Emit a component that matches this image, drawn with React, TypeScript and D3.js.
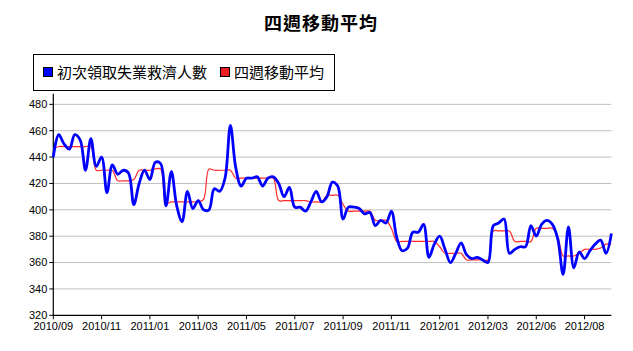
import React, { useEffect } from 'react';
import * as d3 from 'd3';

// weekly points, 2010/09 - 2012/08
const claims = [
  440, 457, 450, 446, 457, 453, 430, 454, 433, 440,
  413, 434, 427, 430, 428, 404, 420, 430, 423, 436,
  435, 403, 429, 403, 391, 414, 401, 407, 400, 400,
  416, 414, 424, 464, 432, 418, 424, 424, 425, 418,
  424, 425, 420, 410, 417, 402, 402, 399, 406, 414,
  406, 410, 421, 418, 393, 402, 402, 401, 397, 398,
  388, 392, 390, 399, 379, 369, 371, 383, 383, 389,
  364, 374, 380, 370, 360, 367, 375, 366, 363, 364,
  362, 360, 388, 390, 393, 367, 370, 372, 372, 388,
  380, 389, 392, 389, 378, 351, 387, 356, 368, 363,
  369, 374, 377, 367, 382,
];

const movingAvg = [
  446, 448, 448, 448, 448, 448, 448, 448, 430, 430,
  430, 430, 422, 422, 422, 423, 430, 430, 430, 431,
  431, 405, 406, 406, 406, 406, 406, 406, 408, 431,
  430, 430, 430, 430, 424, 424, 424, 424, 424, 424,
  424, 424, 407, 407, 407, 407, 407, 407, 406, 406,
  406, 411, 411, 411, 404, 399, 399, 399, 399, 399,
  392, 392, 392, 386, 376, 376, 376, 376, 376, 376,
  376, 376, 372, 367, 367, 367, 367, 362, 362, 362,
  362, 362, 384, 384, 384, 384, 376, 376, 376, 376,
  386, 386, 386, 386, 380, 365, 365, 365, 367, 370,
  370, 370, 371, 374, 374,
];

const tickLabels = [
  '2010/09', '2010/11', '2011/01', '2011/03', '2011/05', '2011/07',
  '2011/09', '2011/11', '2012/01', '2012/03', '2012/06', '2012/08',
];
const tickEvery = 9;
const yTicks = [320, 340, 360, 380, 400, 420, 440, 460, 480];

const seriesNames = ['初次領取失業救濟人數', '四週移動平均'];
const title = '四週移動平均';

const W = 633;
const H = 351;
const cjk = '"Noto Sans CJK TC", "Noto Sans CJK SC", sans-serif';
const sans = '"Liberation Sans", Arial, sans-serif';

export default function App() {
  useEffect(() => {
    document.body.style.margin = '0';
  }, []);

  const x = d3.scalePoint<number>()
    .domain(d3.range(claims.length))
    .range([53.3, 611.4]);
  const y = d3.scaleLinear().domain([320, 488]).range([315.3, 93.8]);

  const line = d3.line<number>()
    .x((_, i) => x(i) as number)
    .y((d) => y(d))
    .curve(d3.curveCatmullRom);

  const left = 53.3;
  const right = 611.4;
  const bottom = y(320);

  return (
    <svg width={W} height={H} style={{ display: 'block', background: '#fff' }}>
      <text x={321} y={30} textAnchor="middle" fontFamily={cjk} fontWeight="bold"
        fontSize={18} letterSpacing={1}>{title}</text>

      {/* legend */}
      <rect x={33.5} y={54.5} width={301} height={36} fill="#fff" stroke="#000" />
      <rect x={43.5} y={67.5} width={9} height={9} fill="#0000ff" stroke="#000" />
      <text x={57} y={78} fontFamily={cjk} fontSize={15}>{seriesNames[0]}</text>
      <rect x={220.5} y={67.5} width={9} height={9} fill="#ee1c24" stroke="#000" />
      <text x={234} y={78} fontFamily={cjk} fontSize={15}>{seriesNames[1]}</text>

      {/* grid + y axis */}
      {yTicks.map((t) => (
        <g key={t}>
          {t > 320 && (
            <line x1={left} x2={right} y1={y(t)} y2={y(t)} stroke="#c0c0c0" strokeWidth={1} />
          )}
          <line x1={left - 4} x2={left} y1={y(t)} y2={y(t)} stroke="#000" />
          <text x={left - 6} y={y(t)} dy="0.35em" textAnchor="end" fontFamily={sans}
            fontSize={11}>{t}</text>
        </g>
      ))}
      <line x1={left} x2={left} y1={93.8} y2={bottom} stroke="#000" strokeWidth={1.2} />
      <line x1={left} x2={right} y1={bottom} y2={bottom} stroke="#000" strokeWidth={1.2} />

      {/* x ticks */}
      {tickLabels.map((lab, k) => {
        const px = x(k * tickEvery) as number;
        return (
          <g key={lab}>
            <line x1={px} x2={px} y1={bottom} y2={bottom + 4} stroke="#000" />
            <text x={px} y={330} textAnchor="middle" fontFamily={sans} fontSize={11}>{lab}</text>
          </g>
        );
      })}

      <path d={line(movingAvg) ?? ''} fill="none" stroke="#ff2a2a" strokeWidth={1.2} />
      <path d={line(claims) ?? ''} fill="none" stroke="#0000ff" strokeWidth={2.8}
        strokeLinejoin="round" />
    </svg>
  );
}
